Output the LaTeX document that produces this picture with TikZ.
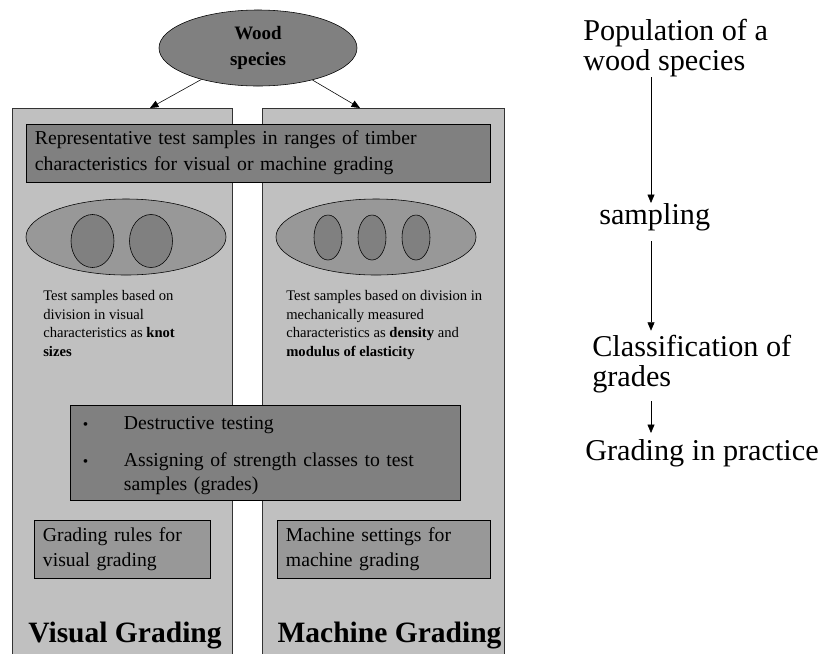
\documentclass[tikz,border=0pt]{standalone}
\usepackage{fontspec}
\setmainfont{Liberation Serif}
\usetikzlibrary{arrows.meta,positioning,shapes.geometric}

\definecolor{panelgray}{RGB}{192,192,192}
\definecolor{darkgray}{RGB}{128,128,128}
\definecolor{midgray}{RGB}{152,152,152}

\begin{document}
\begin{tikzpicture}[x=0.025cm, y=-0.025cm,
        panel/.style={draw=black!80, fill=panelgray, inner sep=0pt},
        darkbox/.style={draw, fill=darkgray, inner sep=0pt, align=left,
        font=\fontsize{14}{18.5}\selectfont},
        midbox/.style={draw, fill=midgray, inner sep=0pt, align=left,
        minimum height=1.45cm, font=\fontsize{14}{17.8}\selectfont},
        outerell/.style={ellipse, draw, fill=midgray, minimum width=5cm,
        minimum height=1.9cm},
        innerell/.style={ellipse, draw, fill=darkgray, inner sep=0pt},
        smalltxt/.style={anchor=north west, inner sep=0pt, align=left,
        font=\fontsize{10.4}{13.3}\selectfont},
        sidetxt/.style={anchor=west, inner sep=0pt, align=left,
        font=\fontsize{21.5}{21.5}\selectfont},
        every path/.style={thin},
        arr/.style={-{Triangle[length=6pt,width=5pt]}}]
    \useasboundingbox (0,0) rectangle (821,653);

    % the two grading columns
    \node[panel, minimum width=5.5cm, minimum height=13.8cm] (visual) at (122,384) {};
    \node[panel, minimum width=6.05cm, minimum height=13.8cm] (machine) at (383,384) {};

    \node[ellipse, draw, fill=darkgray, minimum width=4.95cm, minimum height=1.9cm,
        align=center, font=\bfseries\fontsize{13.5}{18}\selectfont] (wood) at (258,48)
        {Wood\\species};
    \coordinate (visIn) at (150,108);
    \coordinate (macIn) at (360,108);
    \draw[arr] (wood) -- (visIn);
    \draw[arr] (wood) -- (macIn);

    \node[darkbox, minimum width=11.6cm, minimum height=1.45cm, text width=11.15cm,
        inner xsep=0.225cm] (repr) at (258,153)
        {Representative test samples in ranges of timber\\
         characteristics for visual or machine grading};

    % sample divisions
    \node[outerell] (visEll) at (126,237) {};
    \node[innerell, minimum width=1.075cm, minimum height=1.325cm] (visA) at (92.5,241) {};
    \node[innerell, minimum width=1.075cm, minimum height=1.325cm] (visB) at (151,241) {};
    \node[outerell] (macEll) at (376,237) {};
    \foreach \xx/\nm in {328/macA, 372/macB, 416/macC}
        \node[innerell, minimum width=0.7cm, minimum height=1.125cm] (\nm) at (\xx,237.5) {};

    \node[smalltxt] (visText) at (43,290)
        {Test samples based on\\division in visual\\
         characteristics as \textbf{knot}\\\textbf{sizes}};
    \node[smalltxt] (macText) at (286,290)
        {Test samples based on division in\\mechanically measured\\
         characteristics as \textbf{density} and\\\textbf{modulus of elasticity}};

    \node[darkbox, minimum width=9.75cm, minimum height=2.375cm, text width=9.1cm,
        inner xsep=0.325cm, font=\fontsize{14}{17}\selectfont] (test) at (265,452.5)
        {\rule{0pt}{13.8pt}\makebox[1.025cm][l]{\fontsize{11}{11}\selectfont\textbullet}Destructive testing\\[9pt]
         \makebox[1.025cm][l]{\fontsize{11}{11}\selectfont\textbullet}Assigning of strength classes to test\\
         \hspace*{1.025cm}samples (grades)};

    \node[midbox, minimum width=4.4cm, text width=3.95cm, inner xsep=0.225cm] (rules)
        at (122,549) {Grading rules for\\visual grading};
    \node[midbox, minimum width=5.325cm, text width=4.875cm, inner xsep=0.225cm] (settings)
        at (383.5,549) {Machine settings for\\machine grading};

    \node[font=\bfseries\fontsize{21}{24}\selectfont, inner sep=0pt] (visLabel) at (125,635) {Visual Grading};
    \node[font=\bfseries\fontsize{21}{24}\selectfont, inner sep=0pt] (macLabel) at (389.5,635) {Machine Grading};

    % steps on the right
    \node[sidetxt] (pop) at (583,48) {Population of a\\wood species};
    \node[sidetxt] (samp) at (599,217) {sampling};
    \node[sidetxt] (clas) at (592,364) {Classification of\\grades};
    \node[sidetxt] (prac) at (585,453) {Grading in practice};
    \coordinate (ax) at (651,0);
    \draw[arr] (pop.south -| ax) -- (samp.north -| ax);
    \draw[arr, shorten <=0.25cm, shorten >=0.1cm] (samp.south -| ax) -- (clas.north -| ax);
    \draw[arr, shorten <=0.2cm, shorten >=0.15cm] (clas.south -| ax) -- (prac.north -| ax);
\end{tikzpicture}
\end{document}
